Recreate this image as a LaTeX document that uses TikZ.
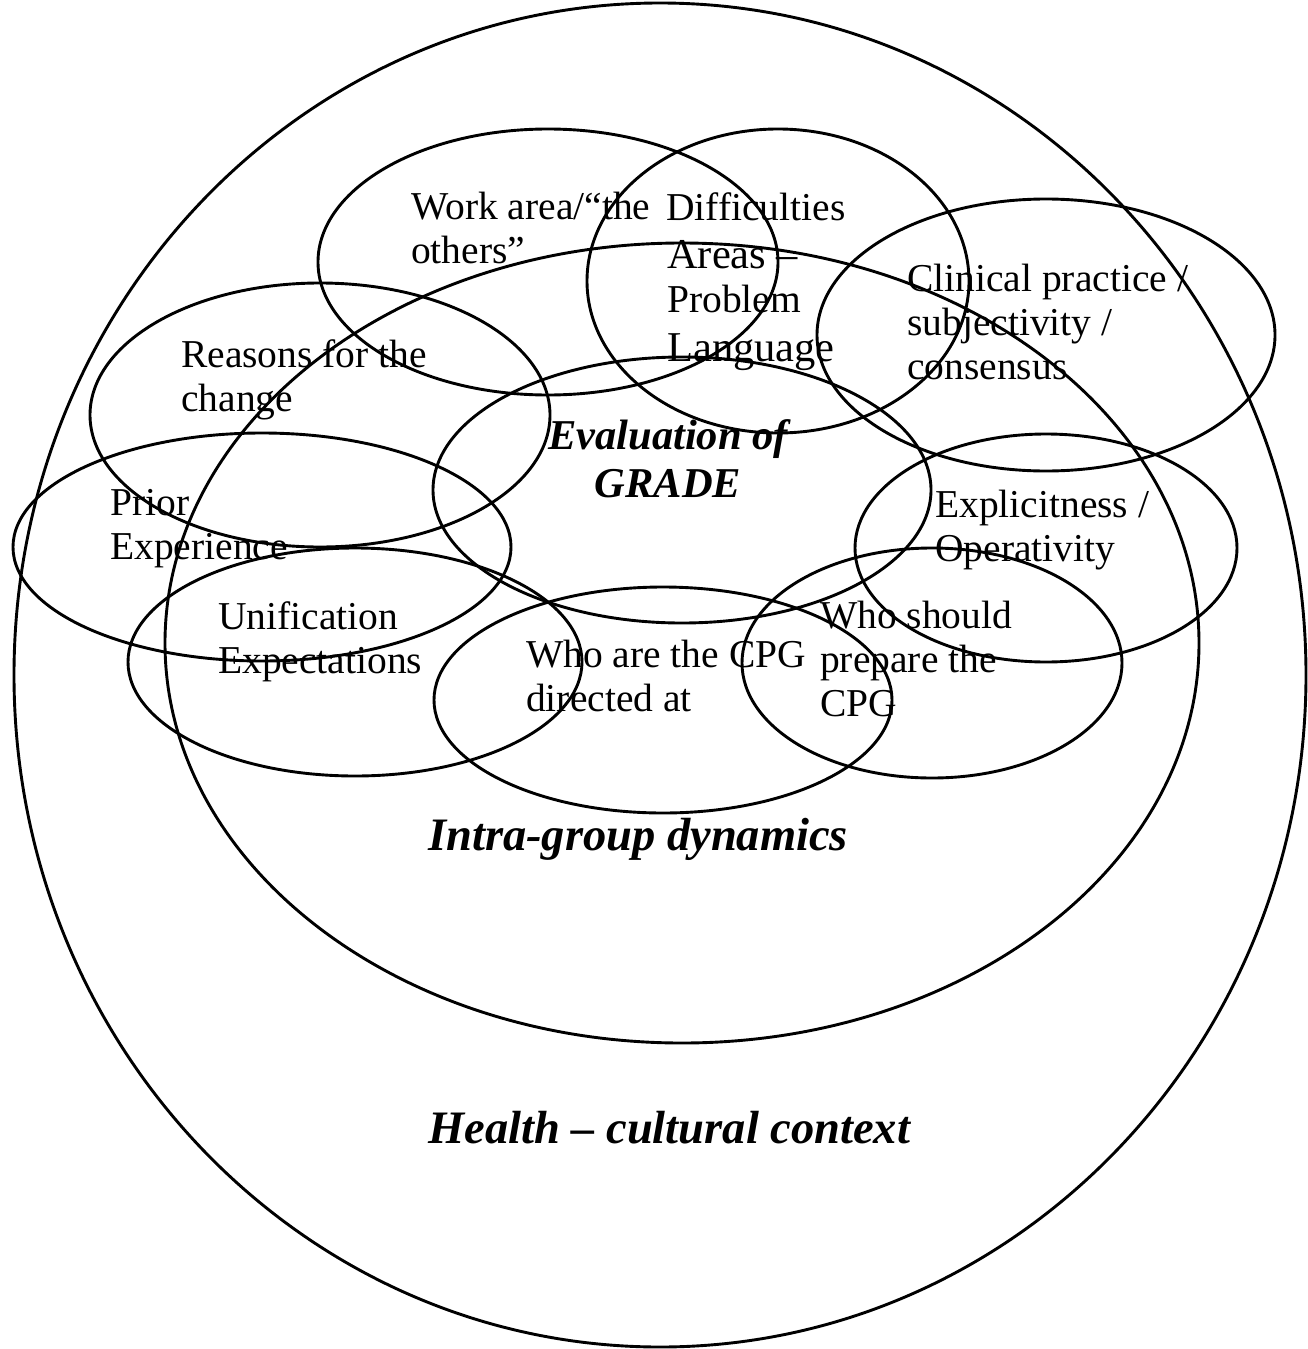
\documentclass[tikz,border=0pt]{standalone}
\usepackage{fontspec}
\setmainfont{Liberation Serif}
\usetikzlibrary{shapes.geometric}
\tikzset{
  ring/.style={draw=black, ellipse, line width=2.9pt, inner sep=0pt, outer sep=0pt},
  lbl/.style={anchor=base west, align=left, inner sep=0pt, text=black,
              font=\fontsize{39.5}{44}\selectfont},
  midlbl/.style={anchor=base, align=center, inner sep=0pt, text=black,
              font=\fontsize{42.5}{48}\selectfont\bfseries\itshape},
  biglbl/.style={anchor=base west, inner sep=0pt, text=black,
              font=\fontsize{46.5}{54}\selectfont\bfseries\itshape},
}
\begin{document}
\begin{tikzpicture}[x=1pt,y=-1pt]
\fill[white] (0,0) rectangle (1307,1349);
\useasboundingbox (0,0) rectangle (1307,1349);
% ellipses
\node[ring, minimum width=1292pt, minimum height=1344pt] (health) at (660,675) {};
\node[ring, minimum width=1034pt, minimum height=800pt] (intra) at (682,643) {};
\node[ring, minimum width=498pt, minimum height=266pt] (eval) at (682,490) {};
\node[ring, minimum width=460pt, minimum height=266pt] (work) at (548,262) {};
\node[ring, minimum width=382pt, minimum height=304pt] (diff) at (778,281) {};
\node[ring, minimum width=458pt, minimum height=272pt] (clin) at (1046,335) {};
\node[ring, minimum width=382pt, minimum height=228pt] (expl) at (1046,548) {};
\node[ring, minimum width=380pt, minimum height=230pt] (should) at (932,663) {};
\node[ring, minimum width=458pt, minimum height=226pt] (whoare) at (663,700) {};
\node[ring, minimum width=454pt, minimum height=228pt] (unif) at (355,662) {};
\node[ring, minimum width=498pt, minimum height=228pt] (prior) at (262,547) {};
\node[ring, minimum width=460pt, minimum height=264pt] (reasons) at (320,415) {};
% labels (base anchor = baseline of the last line)
\node[lbl] (twork) at (411,263) {Work area/“the\\others”};
\node[lbl] (tdiff) at (666,220) {Difficulties};
\node[lbl, font=\fontsize{42.5}{44}\selectfont] (tareasA) at (667,268) {Areas –};
\node[lbl] (tareasB) at (667,312) {Problem};
\node[lbl, font=\fontsize{42.5}{44}\selectfont] (tareasC) at (667,361) {Language};
\node[lbl] (tclin) at (907,379) {Clinical practice /\\subjectivity /\\consensus};
\node[lbl] (treasons) at (181,411) {Reasons for the\\change};
\node[lbl] (tprior) at (110,559) {Prior\\Experience};
\node[midlbl] (teval) at (668,497) {Evaluation of\\GRADE};
\node[lbl] (texpl) at (935,561) {Explicitness /\\Operativity};
\node[lbl] (tshould) at (820,716) {Who should\\prepare the\\CPG};
\node[lbl] (twhoare) at (526,711) {Who are the CPG\\directed at};
\node[lbl] (tunif) at (218,673) {Unification\\Expectations};
\node[biglbl] (tintra) at (428,850) {Intra-group dynamics};
\node[biglbl] (thealth) at (428,1143) {Health – cultural context};
\end{tikzpicture}
\end{document}
